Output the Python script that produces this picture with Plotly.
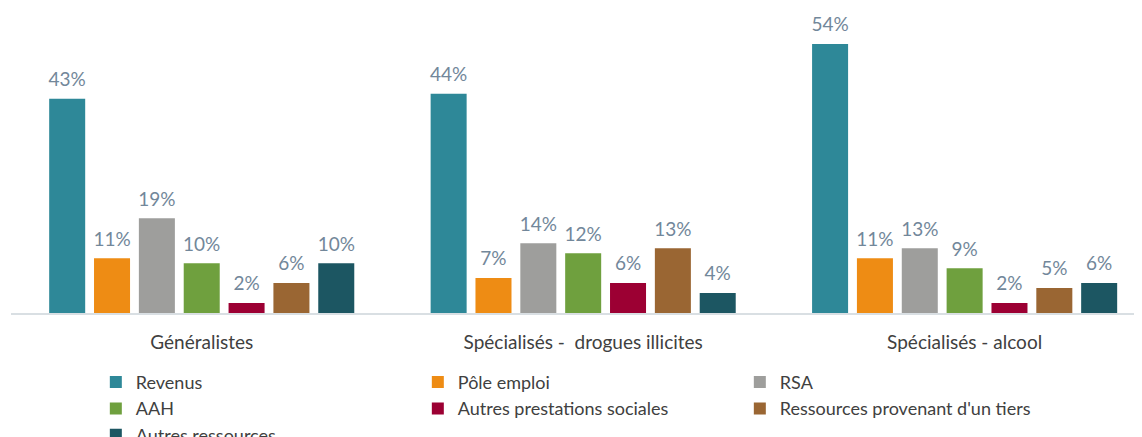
import plotly.graph_objects as go

# Categories (x axis)
categories = ["Généralistes", "Spécialisés -  drogues illicites", "Spécialisés - alcool"]

# Series values (%) per category
revenus = [43, 44, 54]
pole_emploi = [11, 7, 11]
rsa = [19, 14, 13]
aah = [10, 12, 9]
autres_prestations = [2, 6, 2]
ressources_tiers = [6, 13, 5]
autres_ressources = [10, 4, 6]

series_names = ["Revenus", "Pôle emploi", "RSA", "AAH", "Autres prestations sociales",
                "Ressources provenant d'un tiers", "Autres ressources"]
series_values = [revenus, pole_emploi, rsa, aah, autres_prestations, ressources_tiers, autres_ressources]
colors = ["#2e8898", "#ee8c14", "#9e9e9c", "#6fa03e", "#9c0033", "#9a6633", "#1c5662"]

font_family = "Lato, 'Open Sans', sans-serif"

fig = go.Figure()
for i, (name, vals, col) in enumerate(zip(series_names, series_values, colors)):
    fig.add_trace(go.Bar(
        x=categories, y=vals, name=name, offsetgroup=str(i),
        marker=dict(color=col, line=dict(width=0)),
        hoverinfo="y+name",
    ))
# value labels, a bit higher above the bars than plotly's default outside text
for i, vals in enumerate(series_values):
    fig.add_trace(go.Scatter(
        x=categories, y=vals, offsetgroup=str(i), mode="markers+text",
        marker=dict(size=11, opacity=0),
        text=[f"{v}%" for v in vals], textposition="top center",
        textfont=dict(size=19, color="#72879a", family=font_family),
        cliponaxis=False, showlegend=False, hoverinfo="skip",
    ))

# the page body adds an 8px margin, so the figure is 8px smaller
fig.update_layout(
    barmode="group", scattermode="group",
    bargap=0.177, scattergap=0.177,
    bargroupgap=0.197,
    width=1134, height=429,
    margin=dict(l=3, r=0, t=6, b=124, autoexpand=False),
    plot_bgcolor="white", paper_bgcolor="white",
    font=dict(family=font_family, size=19, color="#404040"),
    xaxis=dict(showline=True, linecolor="#d9dfe3", linewidth=2, ticks="",
               range=[-0.5, 2.465], ticklabelstandoff=11,
               tickfont=dict(size=19, color="#404040")),
    yaxis=dict(range=[0, 60], visible=False, showgrid=False, zeroline=False),
    legend=dict(orientation="h", x=0.075, xanchor="left", y=-0.17, yanchor="top",
                entrywidth=277, entrywidthmode="pixels",
                font=dict(size=18, color="#404040"), itemwidth=30,
                traceorder="normal"),
    showlegend=True,
)

fig.write_html("out.html")
